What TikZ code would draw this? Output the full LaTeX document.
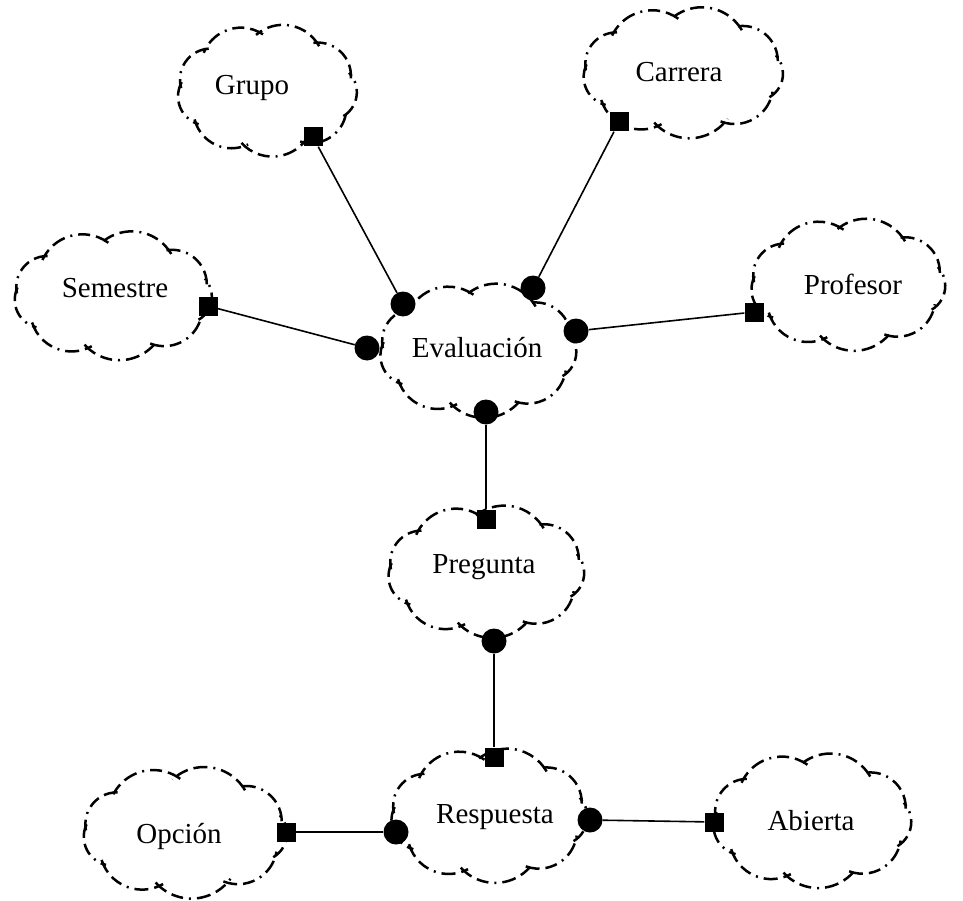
\documentclass[tikz,border=0pt]{standalone}
\usepackage{fontspec}
\setmainfont{Liberation Serif}
% Booch-style class cloud: centre (x, y-down), radii, number of puffs, phase
\newcommand\bcOver{6}
\newcommand\bcDepth{0.5}
\newcommand\boochcloud[6]{%
  \foreach \bcI in {1,...,#5}{%
    \pgfmathsetmacro\bcAa{#6+360*(\bcI-1)/#5}%
    \pgfmathsetmacro\bcAb{#6+360*\bcI/#5}%
    \pgfmathsetmacro\bcXa{#1+#3*cos(\bcAa)}%
    \pgfmathsetmacro\bcYa{-#2+#4*sin(\bcAa)}%
    \pgfmathsetmacro\bcXb{#1+#3*cos(\bcAb)}%
    \pgfmathsetmacro\bcYb{-#2+#4*sin(\bcAb)}%
    \pgfmathsetmacro\bcDx{\bcXb-\bcXa}%
    \pgfmathsetmacro\bcDy{\bcYb-\bcYa}%
    \pgfmathsetmacro\bcL{veclen(\bcDx,\bcDy)}%
    \pgfmathsetmacro\bcS{\bcDepth*\bcL}%
    \pgfmathsetmacro\bcCx{(\bcXa+\bcXb)/2-\bcDepth*\bcDy}%
    \pgfmathsetmacro\bcCy{(\bcYa+\bcYb)/2+\bcDepth*\bcDx}%
    \pgfmathsetmacro\bcR{veclen(\bcL/2,\bcS)}%
    \pgfmathsetmacro\bcTa{atan2(\bcYa-\bcCy,\bcXa-\bcCx)-\bcOver}%
    \pgfmathsetmacro\bcSp{2*atan2(\bcL/2,\bcS)+2*\bcOver}%
    \draw[cloudline] (\bcCx pt,\bcCy pt) ++(\bcTa:\bcR pt)
      arc[start angle=\bcTa, delta angle=\bcSp, radius=\bcR pt];
  }}
\begin{document}
\begin{tikzpicture}[x=1pt,y=1pt,
  cloudline/.style={line width=2.5pt, dash pattern=on 14pt off 6pt on 12pt off 6pt on 2pt off 6pt},
  cname/.style={font=\fontsize{29}{32}\selectfont, anchor=base, inner sep=0pt},
  sqr/.style={rectangle, fill=black, minimum size=19pt, inner sep=0pt},
  joint/.style={circle, fill=black, minimum size=25pt, inner sep=0pt},
  link/.style={line width=1.6pt}]
\useasboundingbox (0,0) rectangle (963,-901);

% class clouds
\boochcloud{267}{90}{87}{58}{9}{15}
\boochcloud{683}{72}{98}{56}{9}{15}
\boochcloud{113}{295}{97}{55}{9}{15}
\boochcloud{848}{284}{95}{57}{9}{15}
\boochcloud{478}{350}{96}{58}{9}{15}
\boochcloud{486}{571}{96}{57}{9}{15}
\boochcloud{489}{815}{96}{58}{9}{15}
\boochcloud{185}{832}{100}{56}{9}{15}
\boochcloud{812}{820}{97}{58}{9}{15}

% class names
\node[cname] (grupo)      at (252,-95)  {Grupo};
\node[cname] (carrera)    at (679,-82)  {Carrera};
\node[cname] (semestre)   at (115,-297) {Semestre};
\node[cname] (profesor)   at (853,-294) {Profesor};
\node[cname] (evaluacion) at (477,-357) {Evaluación};
\node[cname] (pregunta)   at (484,-573) {Pregunta};
\node[cname] (respuesta)  at (495,-823) {Respuesta};
\node[cname] (opcion)     at (179,-843) {Opción};
\node[cname] (abierta)    at (811,-830) {Abierta};

% relationship ends
\node[sqr] (sGrupo)    at (313,-137) {};
\node[sqr] (sCarrera)  at (619,-122) {};
\node[sqr] (sSemestre) at (208,-306) {};
\node[sqr] (sProfesor) at (754,-312) {};
\node[sqr] (sPregunta) at (486,-519) {};
\node[sqr] (sResp)     at (494,-757) {};
\node[sqr] (sOpcion)   at (286,-832) {};
\node[sqr] (sAbierta)  at (714,-822) {};

\node[joint] (eGrupo)    at (403,-304) {};
\node[joint] (eCarrera)  at (533,-288) {};
\node[joint] (eSemestre) at (367,-348) {};
\node[joint] (eProfesor) at (576,-331) {};
\node[joint] (ePregunta) at (486,-412) {};
\node[joint] (pResp)     at (494,-641) {};
\node[joint] (rOpcion)   at (396,-832) {};
\node[joint] (rAbierta)  at (590,-820) {};

% links
\draw[link] (sGrupo) -- (eGrupo);
\draw[link] (sCarrera) -- (eCarrera);
\draw[link] (sSemestre) -- (eSemestre);
\draw[link] (sProfesor) -- (eProfesor);
\draw[link] (sPregunta) -- (ePregunta);
\draw[link] (sResp) -- (pResp);
\draw[link] (sOpcion) -- (rOpcion);
\draw[link] (sAbierta) -- (rAbierta);
\end{tikzpicture}
\end{document}
